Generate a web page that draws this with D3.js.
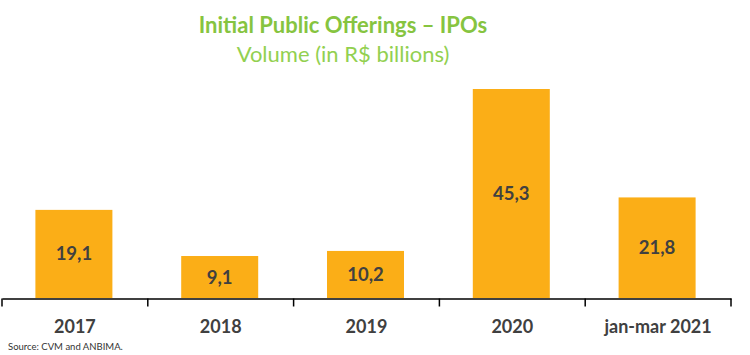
<!DOCTYPE html>
<html><head><meta charset="utf-8">
<script src="https://cdn.jsdelivr.net/npm/d3@7"></script>
<style>body{margin:0;background:#fff}svg{display:block}</style>
</head><body>
<svg id="c" width="750" height="355"></svg>
<script>
const categories = ["2017","2018","2019","2020","jan-mar 2021"];
const values = [19.1, 9.1, 10.2, 45.3, 21.8];
const valueLabels = ["19,1","9,1","10,2","45,3","21,8"];
const title = "Initial Public Offerings \u2013 IPOs";
const subtitle = "Volume (in R$ billions)";
const source = "Source: CVM and ANBIMA.";

const svg = d3.select("#c");
const font = "Lato, 'Open Sans', sans-serif";
const x = d3.scaleBand().domain(categories).range([2, 731]).paddingInner(0).paddingOuter(0);
const y = d3.scaleLinear().domain([0, 45.3]).range([298, 89]);
const bw = 77;

svg.selectAll("rect.bar").data(values).join("rect")
  .attr("class","bar")
  .attr("x",(d,i)=>x(categories[i]) + x.bandwidth()/2 - bw/2 - 1)
  .attr("width",bw)
  .attr("y",d=>y(d))
  .attr("height",d=>y(0)-y(d))
  .attr("fill","#FBAE17");

svg.selectAll("text.val").data(values).join("text")
  .attr("class","val")
  .attr("x",(d,i)=>x(categories[i]) + x.bandwidth()/2 - 1)
  .attr("y",d=>(y(d)+y(0))/2 + 6.5)
  .attr("text-anchor","middle")
  .attr("font-family",font).attr("font-weight","bold").attr("font-size",18.5)
  .attr("fill","#404040")
  .text((d,i)=>valueLabels[i]);

const axis = d3.axisBottom(x).tickSize(0).tickFormat("");
const g = svg.append("g").attr("transform","translate(0,298.5)").call(axis);
g.select(".domain").attr("stroke","#000").attr("stroke-width",1.5);
const bounds = categories.map(c=>x(c)).concat([x.range()[1]]);
g.selectAll("line.tk").data(bounds).join("line").attr("class","tk")
  .attr("x1",d=>d).attr("x2",d=>d).attr("y1",0).attr("y2",8)
  .attr("stroke","#000").attr("stroke-width",1.5);

svg.selectAll("text.cat").data(categories).join("text")
  .attr("class","cat")
  .attr("x",d=>x(d)+x.bandwidth()/2)
  .attr("y",333)
  .attr("text-anchor","middle")
  .attr("font-family",font).attr("font-weight","bold").attr("font-size",18)
  .attr("fill","#404040")
  .text(d=>d);

svg.append("text").attr("x",343).attr("y",33).attr("text-anchor","middle")
  .attr("font-family",font).attr("font-weight","bold").attr("font-size",22)
  .attr("fill","#86C440").text(title);
svg.append("text").attr("x",343).attr("y",62).attr("text-anchor","middle")
  .attr("font-family",font).attr("font-size",22)
  .attr("fill","#92D050").text(subtitle);
svg.append("text").attr("x",8).attr("y",350)
  .attr("font-family",font).attr("font-size",9.5)
  .attr("fill","#333").text(source);
</script>
</body></html>
